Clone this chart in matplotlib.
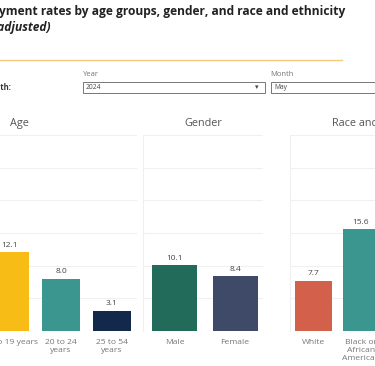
import matplotlib.pyplot as plt
from matplotlib.patches import Rectangle
from matplotlib.lines import Line2D

plt.rcParams['font.family'] = ['Open Sans', 'DejaVu Sans']

###
#   Data
###
age_labels = ['16 to 19 years', '20 to 24\nyears', '25 to 54\nyears']
age_values = [12.1, 8.0, 3.1]
age_colors = ['#F8BC16', '#3A968F', '#13294B']

gender_labels = ['Male', 'Female']
gender_values = [10.1, 8.4]
gender_colors = ['#226A5A', '#3E4A68']

race_labels = ['White', 'Black or\nAfrican\nAmerican']
race_values = [7.7, 15.6]
race_colors = ['#D2604A', '#3A968F']

year_value = '2024'
month_value = 'May'

W, H = 375, 366

def fx(px):
    return px / W

def fy(py):
    return 1 - py / H

fig = plt.figure(figsize=(W / 100, H / 100), dpi=100)
fig.patch.set_facecolor('white')

# header
fig.text(fx(345), fy(12), 'Unemployment rates by age groups, gender, and race and ethnicity',
         ha='right', va='center', fontsize=8.65, fontweight='bold', color='#222222')
fig.text(fx(51), fy(27), '(seasonally adjusted)', ha='right', va='center',
         fontsize=8.65, fontweight='bold', fontstyle='italic', color='#222222')
fig.add_artist(Line2D([0, fx(342)], [fy(60), fy(60)], color='#F6C77E', lw=1.0))

# selectors
fig.text(fx(11), fy(88), 'Select month:', ha='right', va='center', fontsize=5.5,
         fontweight='bold', color='#333333')
fig.text(fx(83), fy(75), 'Year', ha='left', va='center', fontsize=5.5, color='#777777')
fig.text(fx(270), fy(75), 'Month', ha='left', va='center', fontsize=5.5, color='#777777')
fig.add_artist(Rectangle((fx(83), fy(93)), fx(265) - fx(83), fy(82) - fy(93),
                         fill=False, ec='#777777', lw=0.7))
fig.add_artist(Rectangle((fx(271), fy(93)), fx(420) - fx(271), fy(82) - fy(93),
                         fill=False, ec='#777777', lw=0.7))
fig.text(fx(86), fy(87.5), year_value, ha='left', va='center', fontsize=4.8, color='#444444')
fig.text(fx(257), fy(87.5), '\u25be', ha='center', va='center', fontsize=5,
         color='#444444', family='DejaVu Sans')
fig.text(fx(274), fy(87.5), month_value, ha='left', va='center', fontsize=4.8, color='#444444')

###
#   Panels
###
# (left px, right px, first bar center px, bar spacing px, bar width px)
panels = [
    ('Age', age_labels, age_values, age_colors, -98, 137, 10, 51, 38),
    ('Gender', gender_labels, gender_values, gender_colors, 143, 263, 174.5, 60.5, 45),
    ('Race and ethnicity', race_labels, race_values, race_colors, 290, 466, 313, 48, 37),
]

for title, labels, values, colors, left, right, c0, step, bw in panels:
    ax = fig.add_axes([fx(left), fy(331), fx(right) - fx(left), fy(135) - fy(331)])
    xs = list(range(len(values)))
    ax.bar(xs, values, width=bw / step, color=colors, zorder=3)
    ax.set_xlim((left - c0) / step, (right - c0) / step)
    ax.set_ylim(0, 30)
    ax.set_yticks([0, 5, 10, 15, 20, 25, 30])
    ax.grid(axis='y', color='#F0F0F0', lw=0.8, zorder=0)
    ax.tick_params(left=False, bottom=False, labelleft=False, labelsize=6.1,
                   labelcolor='#777777', pad=2.5)
    ax.set_xticks(xs)
    ax.set_xticklabels(labels, linespacing=1.15)
    for s in ['top', 'right', 'bottom']:
        ax.spines[s].set_visible(False)
    ax.spines['left'].set_color('#F0F0F0')
    ax.spines['left'].set_linewidth(0.8)
    for x, v in zip(xs, values):
        ax.text(x, v + 0.5, f'{v:.1f}', ha='center', va='bottom', fontsize=6, color='#444444')
    ax.set_facecolor('none')
    fig.text(fx((left + right) / 2), fy(123), title, ha='center', va='center',
             fontsize=7.8, color='#555555')

fig.savefig('out.png', dpi=100)
